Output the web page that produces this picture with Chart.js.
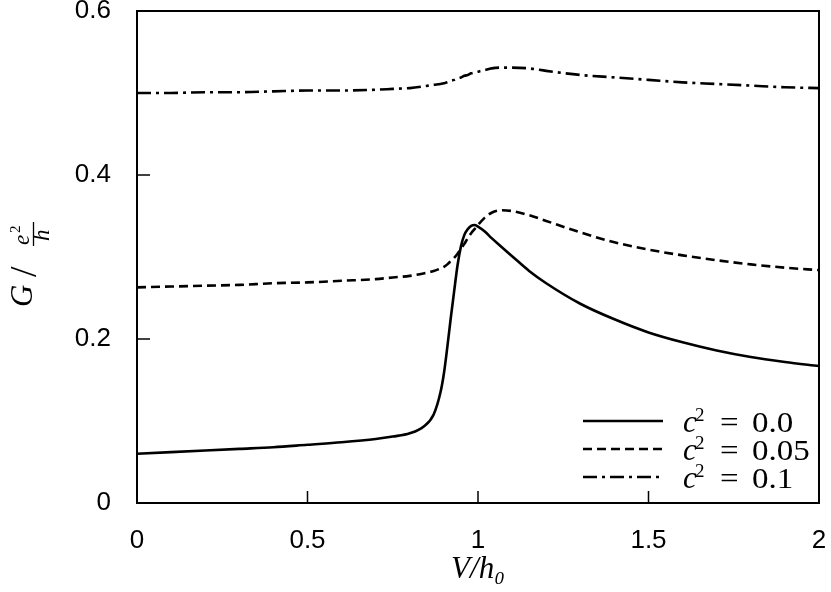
<!DOCTYPE html>
<html>
<head>
<meta charset="utf-8">
<script src="https://cdn.jsdelivr.net/npm/chart.js@4/dist/chart.umd.min.js"></script>
<style>
  html, body { margin: 0; padding: 0; background: #fff; }
  #wrap { width: 831px; height: 592px; }
</style>
</head>
<body>
<div id="wrap"><canvas id="chart"></canvas></div>
<script>
// V/h0 sample points
const xs = [0, 0.1, 0.2, 0.3, 0.4, 0.5, 0.6, 0.7, 0.75, 0.8, 0.84, 0.87, 0.89, 0.9, 0.91, 0.92,
    0.93, 0.94, 0.95, 0.96, 0.97, 0.98, 0.99, 1.0, 1.02, 1.04, 1.07, 1.1, 1.15, 1.2, 1.3, 1.4,
    1.5, 1.6, 1.7, 1.8, 1.9, 2.0];

// G / (e^2/h) for each c^2
const c2Values = ['0.0', '0.05', '0.1'];
const gC0 = [0.060, 0.062, 0.064, 0.066, 0.068, 0.071, 0.074, 0.078, 0.081, 0.085, 0.093, 0.108,
    0.135, 0.158, 0.190, 0.225, 0.258, 0.290, 0.313, 0.327, 0.334, 0.338, 0.339, 0.337, 0.331,
    0.323, 0.312, 0.301, 0.283, 0.268, 0.243, 0.224, 0.208, 0.196, 0.186, 0.178, 0.172, 0.167];
const gC005 = [0.263, 0.264, 0.265, 0.266, 0.268, 0.269, 0.271, 0.273, 0.275, 0.277, 0.280, 0.283,
    0.286, 0.288, 0.291, 0.295, 0.299, 0.304, 0.310, 0.316, 0.323, 0.329, 0.334, 0.339, 0.348,
    0.354, 0.357, 0.356, 0.351, 0.344, 0.330, 0.318, 0.309, 0.302, 0.296, 0.291, 0.287, 0.284];
const gC01 = [0.500, 0.500, 0.501, 0.501, 0.502, 0.503, 0.503, 0.504, 0.505, 0.506, 0.508, 0.510,
    0.511, 0.512, 0.513, 0.515, 0.516, 0.518, 0.519, 0.521, 0.522, 0.524, 0.525, 0.526, 0.528,
    0.530, 0.531, 0.531, 0.530, 0.527, 0.522, 0.519, 0.516, 0.513, 0.511, 0.509, 0.507, 0.506];

const xTicks = [0, 0.5, 1, 1.5, 2];
const yTicks = [0, 0.2, 0.4, 0.6];

const SERIF = '"Liberation Serif", "DejaVu Serif", serif';
const SANS = '"Liberation Sans", Arial, sans-serif';

const toPoints = (ys) => xs.map((x, i) => ({ x, y: ys[i] }));

// frame, inward ticks, legend and y title drawn on top of the chart
const framePlugin = {
    id: 'frame',
    afterDraw(chart) {
        const { ctx, chartArea: a, scales } = chart;
        ctx.save();
        ctx.strokeStyle = '#000';
        ctx.lineWidth = 2;
        ctx.setLineDash([]);
        ctx.strokeRect(a.left, a.top, a.right - a.left, a.bottom - a.top);

        ctx.lineWidth = 1.5;
        ctx.beginPath();
        xTicks.slice(1, -1).forEach((v) => {
            const px = scales.x.getPixelForValue(v);
            ctx.moveTo(px, a.bottom);
            ctx.lineTo(px, a.bottom - 12);
        });
        yTicks.slice(1, -1).forEach((v) => {
            const py = scales.y.getPixelForValue(v);
            ctx.moveTo(a.left, py);
            ctx.lineTo(a.left + 13, py);
        });
        ctx.stroke();

        // legend
        chart.data.datasets.forEach((ds, i) => {
            const y = a.bottom - 82 + i * 28;
            ctx.strokeStyle = '#000';
            ctx.lineWidth = ds.borderWidth;
            ctx.setLineDash(ds.borderDash || []);
            ctx.beginPath();
            ctx.moveTo(a.right - 236, y);
            ctx.lineTo(a.right - 156, y);
            ctx.stroke();
            ctx.setLineDash([]);

            const x0 = a.right - 136;
            const base = y + 11;
            ctx.fillStyle = '#000';
            ctx.textBaseline = 'alphabetic';
            ctx.textAlign = 'left';
            ctx.font = 'italic 31px ' + SERIF;
            ctx.fillText('c', x0, base);
            ctx.font = '19px ' + SERIF;
            ctx.fillText('2', x0 + 12, base - 11);
            ctx.save();
            ctx.translate(x0 + 37, base);
            ctx.scale(1.1, 1);
            ctx.font = '30px ' + SERIF;
            ctx.fillText('=', 0, 0);
            ctx.fillText(c2Values[i], 29, 0);
            ctx.restore();
        });

        // y title: G / (e^2 / h)
        ctx.translate(28, 255);
        ctx.rotate(-Math.PI / 2);
        ctx.fillStyle = '#000';
        ctx.textAlign = 'left';
        ctx.font = 'italic 31px ' + SERIF;
        ctx.fillText('G', -52, 4);
        ctx.font = '38px ' + SERIF;
        ctx.fillText('/', -22, 8);
        ctx.font = 'italic 23px ' + SERIF;
        ctx.fillText('e', 10, 1);
        ctx.font = '15px ' + SERIF;
        ctx.fillText('2', 22, -8);
        ctx.font = 'italic 23px ' + SERIF;
        ctx.fillText('h', 14, 21);
        ctx.lineWidth = 1.3;
        ctx.beginPath();
        ctx.moveTo(9, 5.5);
        ctx.lineTo(33, 5.5);
        ctx.stroke();
        ctx.restore();
    },
};

new Chart(document.getElementById('chart'), {
    type: 'line',
    data: {
        datasets: [
            {
                label: 'c² = ' + c2Values[0],
                data: toPoints(gC0),
                borderColor: '#000',
                borderWidth: 2.6,
                pointRadius: 0,
                cubicInterpolationMode: 'monotone',
            },
            {
                label: 'c² = ' + c2Values[1],
                data: toPoints(gC005),
                borderColor: '#000',
                borderWidth: 2.6,
                borderDash: [9, 5],
                pointRadius: 0,
                cubicInterpolationMode: 'monotone',
            },
            {
                label: 'c² = ' + c2Values[2],
                data: toPoints(gC01),
                borderColor: '#000',
                borderWidth: 2.6,
                borderDash: [14, 5, 3, 5],
                pointRadius: 0,
                cubicInterpolationMode: 'monotone',
            },
        ],
    },
    options: {
        responsive: true,
        maintainAspectRatio: false,
        animation: false,
        layout: { padding: { top: 11, right: 12, left: 0, bottom: 0 } },
        plugins: {
            legend: { display: false },
            tooltip: { enabled: false },
        },
        scales: {
            x: {
                type: 'linear',
                min: 0,
                max: 2,
                afterBuildTicks: (s) => { s.ticks = xTicks.map((v) => ({ value: v })); },
                afterFit: (s) => {
                    s.height = 89;
                    s.paddingLeft = 0;
                    s.paddingRight = 0;
                },
                grid: { display: false },
                border: { display: false },
                ticks: {
                    font: { family: SANS, size: 26 },
                    color: '#000',
                    padding: 14,
                    callback: (v) => String(v),
                },
                title: {
                    display: true,
                    text: 'V/h₀',
                    font: { family: SERIF, size: 31, style: 'italic' },
                    color: '#000',
                    padding: { top: 0 },
                },
            },
            y: {
                min: 0,
                max: 0.6,
                afterBuildTicks: (s) => { s.ticks = yTicks.map((v) => ({ value: v })); },
                afterFit: (s) => {
                    s.width = 137;
                    s.paddingTop = 0;
                    s.paddingBottom = 0;
                },
                grid: { display: false },
                border: { display: false },
                ticks: {
                    font: { family: SANS, size: 26 },
                    color: '#000',
                    padding: 18,
                    callback: (v) => String(v),
                },
            },
        },
    },
    plugins: [framePlugin],
});
</script>
</body>
</html>
